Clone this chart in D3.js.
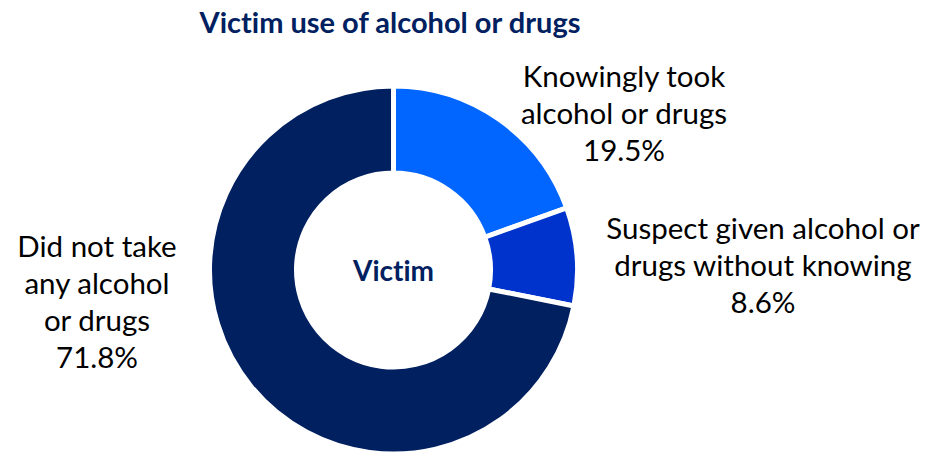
<!DOCTYPE html>
<html><head><meta charset="utf-8">
<script src="https://cdn.jsdelivr.net/npm/d3@7"></script>
<style>body{margin:0;background:#fff}svg{display:block}text{font-variant-ligatures:none;font-feature-settings:"liga" 0}</style>
</head><body>
<svg id="c" width="926" height="453"></svg>
<script>
const categories = ["Knowingly took alcohol or drugs", "Suspect given alcohol or drugs without knowing", "Did not take any alcohol or drugs"];
const values = [19.5, 8.6, 71.8];
const colors = ["#0066FF", "#0033CC", "#002060"];
const labelLines = [["Knowingly took", "alcohol or drugs", "19.5%"], ["Suspect given alcohol or", "drugs without knowing", "8.6%"], ["Did not take", "any alcohol", "or drugs", "71.8%"]];
const labelPos = [[624, 87], [763, 239], [97, 257]];

const svg = d3.select("#c");
const font = "Lato, 'Open Sans', sans-serif";
const cx = 393.5, cy = 270, R = 184, r = 97;

svg.append("text").attr("x", 390).attr("y", 33).attr("text-anchor", "middle")
  .attr("font-family", font).attr("font-weight", 700).attr("font-size", 29)
  .attr("fill", "#002060").text("Victim use of alcohol or drugs");

const pie = d3.pie().sort(null).value(d => d)(values);
const arc = d3.arc().innerRadius(r).outerRadius(R);
const g = svg.append("g").attr("transform", `translate(${cx},${cy})`);
g.selectAll("path").data(pie).join("path").attr("d", arc)
  .attr("fill", (d, i) => colors[i]).attr("stroke", "#fff").attr("stroke-width", 5);

g.append("text").attr("x", 0).attr("y", 11).attr("text-anchor", "middle")
  .attr("font-family", font).attr("font-weight", 700).attr("font-size", 28)
  .attr("fill", "#002060").text("Victim");

labelLines.forEach((lines, i) => {
  const t = svg.append("text").attr("text-anchor", "middle")
    .attr("font-family", font).attr("font-size", 29.5).attr("fill", "#000");
  lines.forEach((l, j) => t.append("tspan").attr("x", labelPos[i][0]).attr("y", labelPos[i][1] + j * 37).text(l));
});
</script>
</body></html>
